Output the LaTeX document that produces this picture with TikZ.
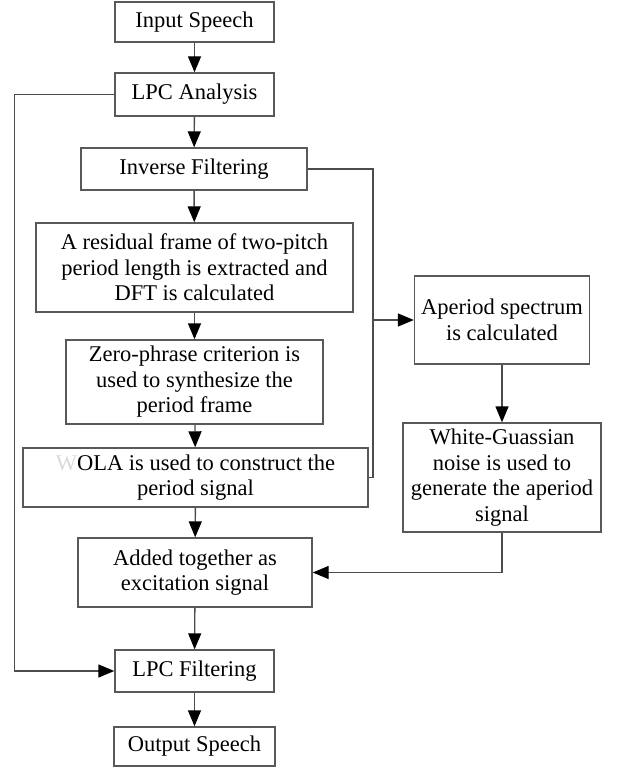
\documentclass[tikz,border=0pt]{standalone}
\usepackage{fontspec}
\setmainfont{Liberation Serif}
\usetikzlibrary{arrows.meta}
\tikzset{>={Triangle[length=16pt, width=13pt, color=black]}}

\begin{document}
\begin{tikzpicture}[x=1pt, y=-1pt, line width=1.4pt,
    box/.style={draw=black!65, inner sep=0pt, align=center,
        font=\fontsize{22.5}{25.5}\selectfont},
    link/.style={draw=black!70}]
    \useasboundingbox(0, 0)rectangle(617, 767);
    % main column
    \node[box, minimum width=159, minimum height=40](in)at(194.5, 22){Input Speech};
    \node[box, minimum width=159, minimum height=43](ana)at(194.5, 94.5){LPC Analysis};
    \node[box, minimum width=226, minimum height=42](inv)at(194, 169){Inverse Filtering};
    \node[box, minimum width=317, minimum height=89](res)at(194.5, 267.5){A residual frame of two-pitch\\period length is extracted and\\DFT is calculated};
    \node[box, minimum width=257, minimum height=84](zero)at(194.5, 382){Zero-phrase criterion is\\used to synthesize the\\period frame};
    \node[box, minimum width=345, minimum height=59](ola)at(195.5, 477.5){\textcolor{black!15}{W}OLA is used to construct the\\period signal};
    \node[box, minimum width=234, minimum height=69](add)at(195, 572.5){Added together as\\excitation signal};
    \node[box, minimum width=159, minimum height=42](filt)at(194.5, 671){LPC Filtering};
    \node[box, minimum width=161, minimum height=39](out)at(194.5, 746.5){Output Speech};
    % aperiodic branch
    \node[box, minimum width=175, minimum height=88](aper)at(502, 320){Aperiod spectrum\\is calculated};
    \node[box, minimum width=198, minimum height=109](white)at(502, 477.5){White-Guassian\\noise is used to\\generate the aperiod\\signal};
    \coordinate(j1)at(373, 320);
    \coordinate(j2)at(373, 477.5);
    \coordinate(l2)at(14.5, 671);
    \draw[link, ->](in)--(ana);
    \draw[link, ->](ana)--(inv);
    \draw[link, ->](inv)--(res);
    \draw[link, ->](res)--(zero);
    \draw[link, ->](zero)--(ola);
    \draw[link, ->](ola)--(add);
    \draw[link, ->](add)--(filt);
    \draw[link, ->](filt)--(out);
    \draw[link](inv.east)-|(j2)--(ola.east);
    \draw[link, ->](j1)--(aper.west);
    \draw[link, ->](aper)--(white);
    \draw[link, ->](white.south)|-(add.east);
    \draw[link, ->](ana.west)-|(l2)--(filt.west);
\end{tikzpicture}
\end{document}
